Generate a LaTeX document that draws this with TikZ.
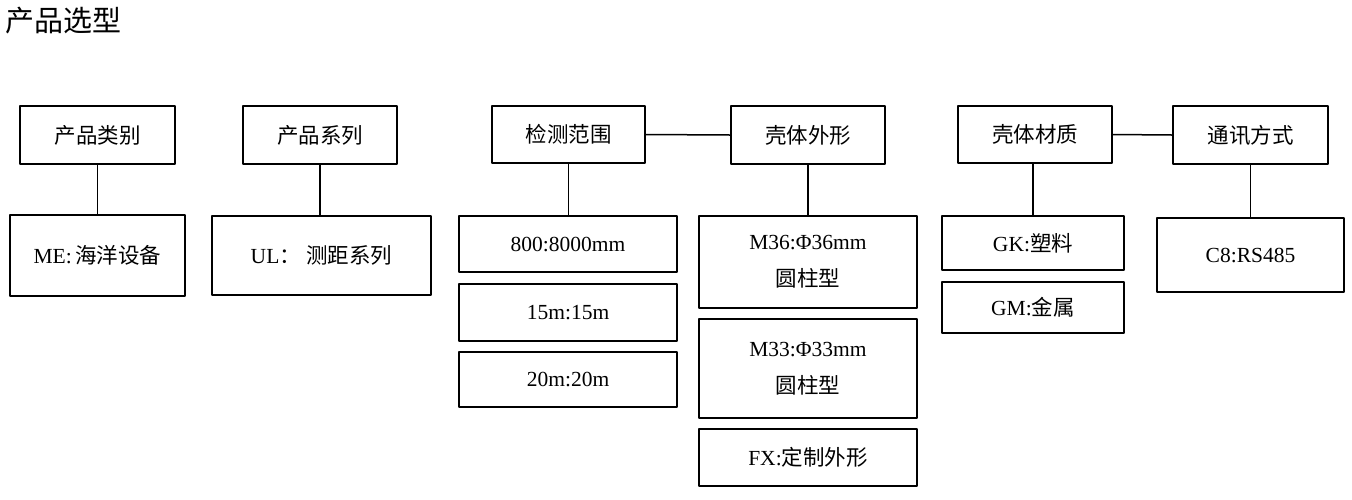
\documentclass[tikz,border=0pt]{standalone}
\usepackage{fontspec}
\setmainfont{Liberation Serif}
\newfontfamily\cjk{Noto Sans CJK SC}
\newcommand{\zh}[1]{{\cjk #1}}
\tikzset{
  box/.style={draw,line width=2pt,inner sep=0pt,align=center,
    font=\fontsize{21.5}{37}\selectfont},
  link/.style={line width=1.5pt}
}
\begin{document}
\begin{tikzpicture}[x=1pt,y=-1pt,line join=round]
	\useasboundingbox (0,0) rectangle (1352,499);
	\node[anchor=west,inner sep=0pt,font=\fontsize{29}{32}\selectfont] (title) at (5,21) {\zh{产品选型}};
	% top row
	\node[box,minimum width=155pt,minimum height=58pt] (cat) at (97.5,135) {\zh{产品类别}};
	\node[box,minimum width=154pt,minimum height=58pt] (ser) at (320,135) {\zh{产品系列}};
	\node[box,minimum width=153pt,minimum height=57pt] (range) at (568.5,134.5) {\zh{检测范围}};
	\node[box,minimum width=154pt,minimum height=58pt] (shape) at (808,135) {\zh{壳体外形}};
	\node[box,minimum width=154pt,minimum height=57pt] (mat) at (1035,134.5) {\zh{壳体材质}};
	\node[box,minimum width=155pt,minimum height=58pt] (com) at (1250.5,135) {\zh{通讯方式}};
	% options
	\node[box,minimum width=175pt,minimum height=81pt] (me) at (97.5,255.5) {ME:\,\zh{海洋设备}};
	\node[box,minimum width=219pt,minimum height=79pt] (ul) at (321.5,255.5) {UL\zh{：} \zh{测距系列}};
	\node[box,minimum width=218pt,minimum height=56pt] (r1) at (568,244) {800:8000mm};
	\node[box,minimum width=218pt,minimum height=57pt] (r2) at (568,312.5) {15m:15m};
	\node[box,minimum width=218pt,minimum height=55pt] (r3) at (568,379.5) {20m:20m};
	\node[box,minimum width=218pt,minimum height=92pt] (s1) at (808,262) {M36:Φ36mm\\\zh{圆柱型}};
	\node[box,minimum width=218pt,minimum height=99pt] (s2) at (808,368.5) {M33:Φ33mm\\\zh{圆柱型}};
	\node[box,minimum width=218pt,minimum height=57pt] (s3) at (808,457.5) {FX:\zh{定制外形}};
	\node[box,minimum width=182pt,minimum height=54pt] (gk) at (1033,243) {GK:\zh{塑料}};
	\node[box,minimum width=182pt,minimum height=51pt] (gm) at (1033,307.5) {GM:\zh{金属}};
	\node[box,minimum width=187pt,minimum height=74pt] (c8) at (1250.5,255) {C8:RS485};
	% connectors
	\draw[link] (cat.south) -- (cat.south |- me.north);
	\draw[link] (ser.south) -- (ser.south |- ul.north);
	\draw[link] (range.south) -- (range.south |- r1.north);
	\draw[link] (shape.south) -- (shape.south |- s1.north);
	\draw[link] (gk.north |- mat.south) -- (gk.north);
	\draw[link] (c8.north |- com.south) -- (c8.north);
	\draw[link] (range.east) -- (shape.west);
	\draw[link] (mat.east) -- (com.west);
\end{tikzpicture}
\end{document}
